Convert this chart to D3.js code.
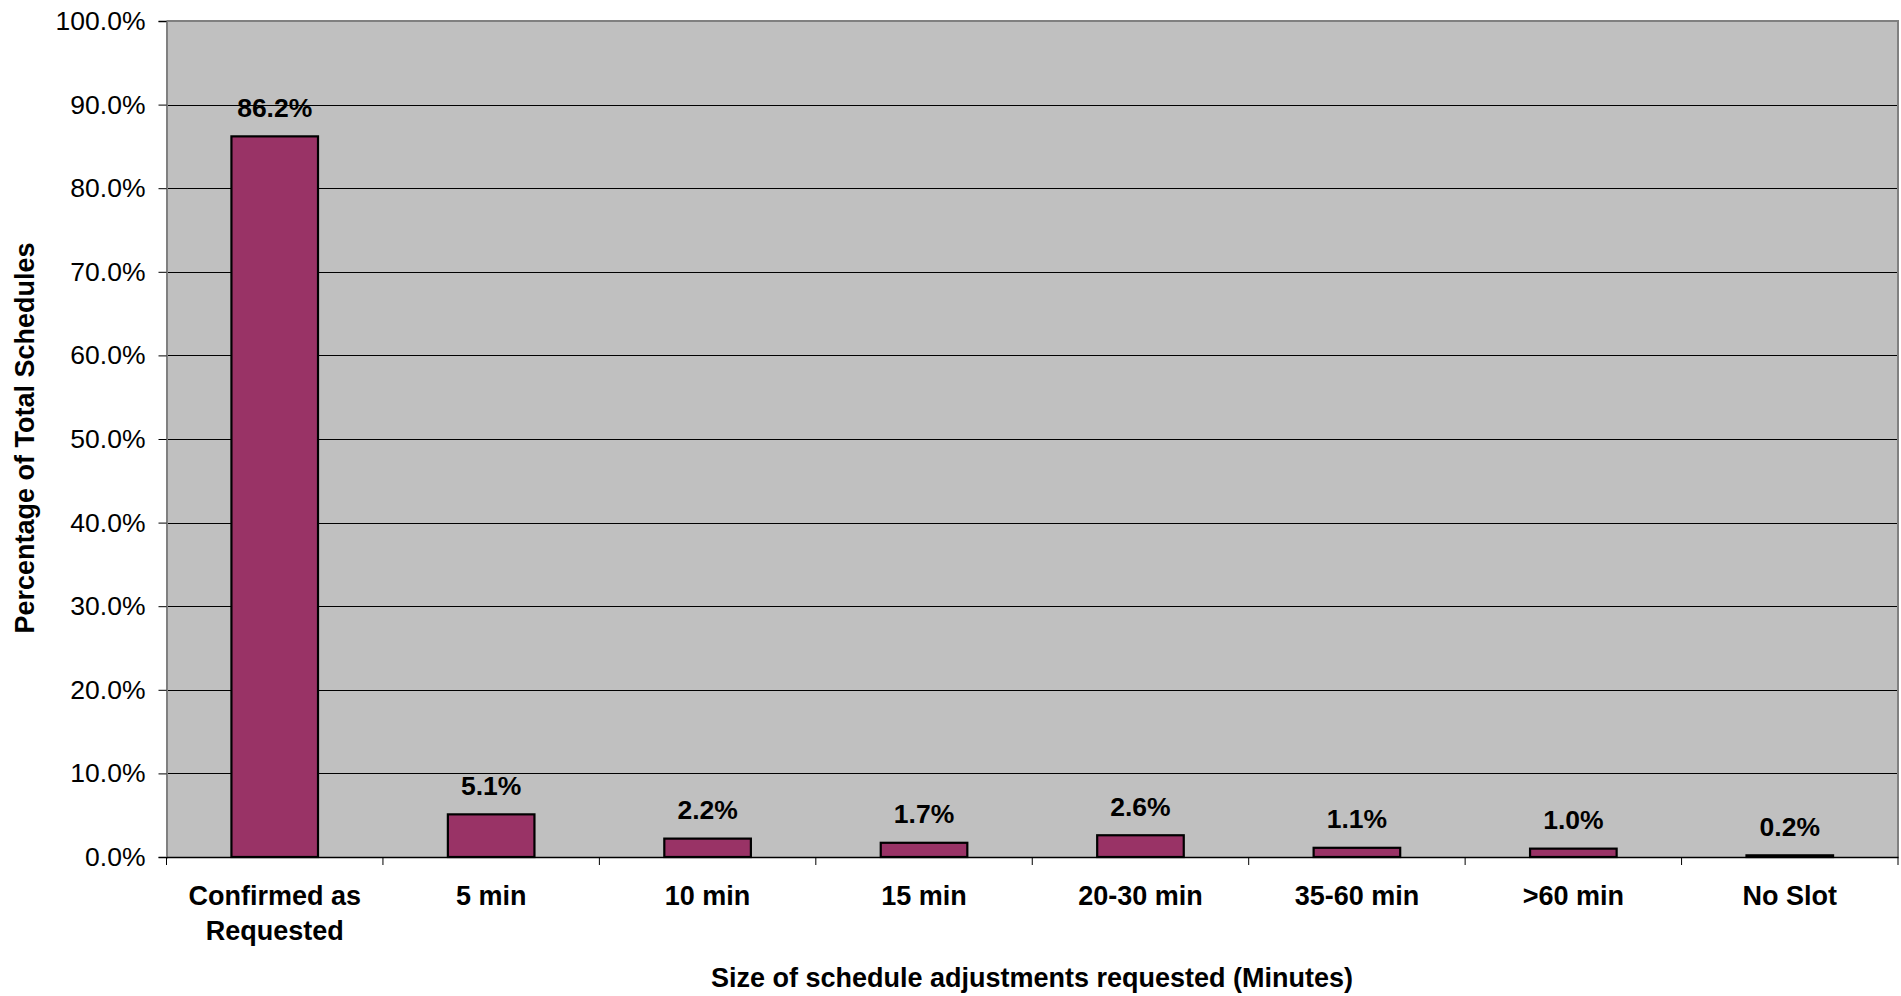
<!DOCTYPE html>
<html>
<head>
<meta charset="utf-8">
<script src="https://cdn.jsdelivr.net/npm/d3@7"></script>
<style>
  html, body { margin: 0; padding: 0; background: #ffffff; }
  svg { display: block; }
  text { font-family: "Liberation Sans", Arial, sans-serif; fill: #000; }
</style>
</head>
<body>
<svg id="chart" width="1901" height="996"></svg>
<script>
const categories = ["Confirmed as\nRequested", "5 min", "10 min", "15 min", "20-30 min", "35-60 min", ">60 min", "No Slot"];
const values = [86.2, 5.1, 2.2, 1.7, 2.6, 1.1, 1.0, 0.2];
const yTicks = [0, 10, 20, 30, 40, 50, 60, 70, 80, 90, 100];
const xTitle = "Size of schedule adjustments requested (Minutes)";
const yTitle = "Percentage of Total Schedules";

(function () {
const svg = d3.select("#chart");
const pLeft = 166.5, pRight = 1898, pTop = 21, pBottom = 857;

const x = d3.scaleBand().domain(categories).range([pLeft, pRight]).paddingInner(0.6).paddingOuter(0.3);
const xb = d3.scaleBand().domain(categories).range([pLeft, pRight]).padding(0);
const y = d3.scaleLinear().domain([0, 100]).range([pBottom, pTop]);

// plot background
svg.append("rect")
  .attr("x", pLeft).attr("y", pTop)
  .attr("width", pRight - pLeft).attr("height", pBottom - pTop)
  .attr("fill", "#c0c0c0");

// gridlines
svg.append("g").selectAll("line")
  .data(yTicks.filter(d => d > 0 && d < 100))
  .join("line")
  .attr("x1", pLeft).attr("x2", pRight)
  .attr("y1", d => Math.round(y(d)) + 0.5).attr("y2", d => Math.round(y(d)) + 0.5)
  .attr("stroke", "#000").attr("stroke-width", 1);

// frame (top and right grey)
svg.append("path")
  .attr("d", `M${pLeft},${pTop}H${pRight}V${pBottom}`)
  .attr("fill", "none").attr("stroke", "#808080").attr("stroke-width", 2);

// bars
svg.append("g").selectAll("rect")
  .data(values)
  .join("rect")
  .attr("x", (d, i) => x(categories[i]))
  .attr("width", x.bandwidth())
  .attr("y", d => y(d))
  .attr("height", d => pBottom - y(d))
  .attr("fill", "#993366")
  .attr("stroke", "#000")
  .attr("stroke-width", 2.2);

// data labels
svg.append("g").selectAll("text")
  .data(values)
  .join("text")
  .attr("x", (d, i) => x(categories[i]) + x.bandwidth() / 2)
  .attr("y", d => y(d) - 19.5)
  .attr("text-anchor", "middle")
  .attr("font-size", "26.5px")
  .attr("font-weight", "bold")
  .text(d => d.toFixed(1) + "%");

// y axis
const yAxis = d3.axisLeft(y).tickValues(yTicks).tickSize(8).tickPadding(13)
  .tickFormat(d => d.toFixed(1) + "%");
const yg = svg.append("g").attr("transform", `translate(${pLeft},0)`).call(yAxis);
yg.select(".domain").attr("stroke", "#808080").attr("stroke-width", 2);
yg.selectAll(".tick line").attr("stroke", "#000");
yg.selectAll(".tick text").attr("font-size", "26.5px").attr("font-family", "Liberation Sans, Arial, sans-serif").attr("fill", "#000");

// x axis
const xAxis = d3.axisBottom(xb).tickSize(0).tickFormat("");
const xg = svg.append("g").attr("transform", `translate(0,${pBottom})`).call(xAxis);
xg.select(".domain").attr("stroke", "#000").attr("stroke-width", 1.5);
xg.selectAll(".tick").remove();

// category boundary ticks
const bounds = categories.map(c => xb(c)).concat([pRight]);
svg.append("g").selectAll("line")
  .data(bounds)
  .join("line")
  .attr("x1", d => d).attr("x2", d => d)
  .attr("y1", pBottom).attr("y2", pBottom + 8)
  .attr("stroke", "#000").attr("stroke-width", 1);

// category labels
const catG = svg.append("g").selectAll("text")
  .data(categories)
  .join("text")
  .attr("x", d => xb(d) + xb.bandwidth() / 2)
  .attr("y", 905)
  .attr("text-anchor", "middle")
  .attr("font-size", "27px")
  .attr("font-weight", "bold");
catG.each(function(d) {
  const lines = d.split("\n");
  d3.select(this).selectAll("tspan")
    .data(lines)
    .join("tspan")
    .attr("x", xb(d) + xb.bandwidth() / 2)
    .attr("dy", (l, i) => i === 0 ? 0 : 35)
    .text(l => l);
});

// axis titles
svg.append("text")
  .attr("x", 1032)
  .attr("y", 987)
  .attr("text-anchor", "middle")
  .attr("font-size", "27px")
  .attr("font-weight", "bold")
  .text(xTitle);

svg.append("text")
  .attr("transform", `translate(34,438) rotate(-90)`)
  .attr("text-anchor", "middle")
  .attr("font-size", "27px")
  .attr("font-weight", "bold")
  .text(yTitle);
})();
</script>
</body>
</html>
